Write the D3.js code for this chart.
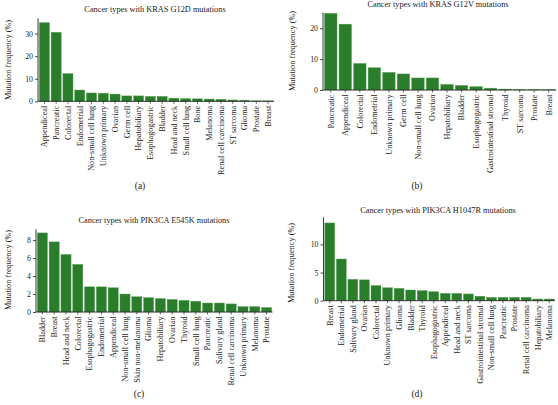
<!DOCTYPE html>
<html><head><meta charset="utf-8">
<script src="https://cdn.jsdelivr.net/npm/d3@7"></script>
<style>body{margin:0;background:#fff}svg{display:block}text{font-family:"Liberation Serif","DejaVu Serif",serif;fill:#222}</style>
</head><body>
<svg id="c" width="558" height="405"></svg>
<script>
const catsA = ["Appendiceal","Pancreatic","Colorectal","Endometrial","Non-small cell lung","Unknown primary","Ovarian","Germ cell","Hepatobiliary","Esophagogastric","Bladder","Head and neck","Small cell lung","Bone","Melanoma","Renal cell carcinoma","ST sarcoma","Glioma","Prostate","Breast"];
const valsA = [34.9,30.6,12.3,5.0,3.7,3.6,3.2,2.4,2.4,2.2,2.2,1.4,1.2,1.1,1.0,0.9,0.6,0.5,0.2,0.2];
const ticksA = [0,10,20,30];

const catsB = ["Pancreatic","Appendiceal","Colorectal","Endometrial","Unknown primary","Germ cell","Non-small cell lung","Ovarian","Hepatobiliary","Bladder","Esophagogastric","Gastrointestinal stromal","Thyroid","ST sarcoma","Prostate","Breast"];
const valsB = [24.8,21.3,8.6,7.2,5.7,5.2,3.9,3.9,1.8,1.5,1.1,0.6,0.3,0.1,0.1,0.1];
const ticksB = [0,10,20];

const catsC = ["Bladder","Breast","Head and neck","Colorectal","Esophagogastric","Endometrial","Appendiceal","Non-small cell lung","Skin non-melanoma","Glioma","Hepatobiliary","Ovarian","Thyroid","Small cell lung","Pancreatic","Salivary gland","Renal cell carcinoma","Unknown primary","Melanoma","Prostate"];
const valsC = [8.8,7.8,6.4,5.3,2.8,2.8,2.7,2.0,1.7,1.6,1.5,1.4,1.3,1.2,1.0,1.0,0.9,0.6,0.6,0.5];
const ticksC = [0,2,4,6,8];

const catsD = ["Breast","Endometrial","Salivary gland","Ovarian","Colorectal","Unknown primary","Glioma","Bladder","Thyroid","Esophagogastric","Appendiceal","Head and neck","ST sarcoma","Gastrointestinal stromal","Non-small cell lung","Pancreatic","Prostate","Renal cell carcinoma","Hepatobiliary","Melanoma"];
const valsD = [13.8,7.4,3.8,3.7,2.7,2.3,2.2,1.9,1.8,1.6,1.3,1.3,1.2,0.8,0.6,0.6,0.6,0.6,0.3,0.3];
const ticksD = [0,5,10];

const titles = ["Cancer types with KRAS G12D mutations","Cancer types with KRAS G12V mutations","Cancer types with PIK3CA E545K mutations","Cancer types with PIK3CA H1047R mutations"];
const letters = ["(a)","(b)","(c)","(d)"];

const svg = d3.select("#c");
const panels = [
  {cats:catsA, vals:valsA, ticks:ticksA, max:36.8, x0:38.5, x1:274, y0:101.3, y1:18.3, tx:155, ty:12, ylx:8, yly:60, lx:140, ly:189, t:0},
  {cats:catsB, vals:valsB, ticks:ticksB, max:25.0, x0:323.5, x1:556, y0:90, y1:12.7, tx:438, ty:7, ylx:292, yly:51, lx:417, ly:189, t:1},
  {cats:catsC, vals:valsC, ticks:ticksC, max:9.2, x0:36.5, x1:272.5, y0:312, y1:229.3, tx:154, ty:223, ylx:8, yly:270, lx:139, ly:397, t:2},
  {cats:catsD, vals:valsD, ticks:ticksD, max:14.8, x0:324, x1:555, y0:300.7, y1:217.3, tx:438, ty:213, ylx:291, yly:263, lx:417, ly:397, t:3}
];

panels.forEach(p => {
  const x = d3.scaleBand().domain(p.cats).range([p.x0, p.x1]).paddingInner(0.14).paddingOuter(0.07);
  const y = d3.scaleLinear().domain([0, p.max]).range([p.y0, p.y1]);
  const g = svg.append("g");
  g.selectAll("rect").data(p.cats).join("rect")
    .attr("x", d => x(d)).attr("width", x.bandwidth())
    .attr("y", (d,i) => y(p.vals[i])).attr("height", (d,i) => y(0) - y(p.vals[i]))
    .attr("fill", "#2a7d2a").attr("stroke", "#5fa55f").attr("stroke-width", 0.4);
  const ya = g.append("g").attr("transform", `translate(${p.x0 - 0.5},0)`)
    .call(d3.axisLeft(y).tickValues(p.ticks).tickSize(3).tickPadding(2).tickFormat(d3.format("d")));
  ya.select(".domain").attr("d", `M-0.0,${p.y0}V${p.y1}`).attr("stroke","#222").attr("stroke-width",0.9);
  ya.selectAll(".tick line").attr("stroke","#222").attr("stroke-width",0.8);
  ya.selectAll("text").attr("font-size", 7.8).style("font-family","Liberation Serif");
  const xa = g.append("g").attr("transform", `translate(0,${p.y0})`)
    .call(d3.axisBottom(x).tickSize(2.5).tickSizeOuter(0));
  xa.select(".domain").attr("d", `M${p.x0-0.5},0H${p.x1}`).attr("stroke","#222").attr("stroke-width",0.9);
  xa.selectAll(".tick line").attr("stroke","#222").attr("stroke-width",0.7);
  xa.selectAll("text").attr("font-size", 8.2).style("font-family","Liberation Serif")
    .attr("transform","rotate(-90)").attr("text-anchor","end").attr("x",-4.5).attr("y",0).attr("dy","0.35em");
  svg.append("text").attr("x", p.tx).attr("y", p.ty).attr("text-anchor","middle").attr("font-size", 8.3).text(titles[p.t]);
  svg.append("text").attr("transform", `translate(${p.ylx + 3},${p.yly}) rotate(-90)`).attr("text-anchor","middle").attr("font-size", 8.3).text("Mutation frequency (%)");
  svg.append("text").attr("x", p.lx).attr("y", p.ly).attr("text-anchor","middle").attr("font-size", 9.5).text(letters[p.t]);
});
</script>
</body></html>
